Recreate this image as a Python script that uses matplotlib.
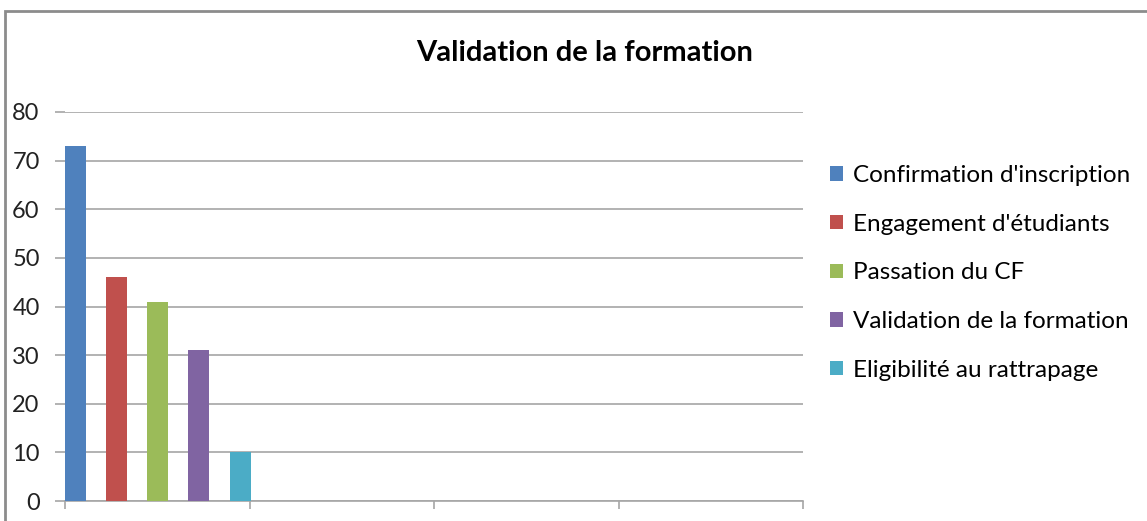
import matplotlib.pyplot as plt
from matplotlib.patches import Rectangle, Patch

series = ["Confirmation d'inscription", "Engagement d'étudiants", "Passation du CF",
          "Validation de la formation", "Eligibilité au rattrapage"]
values = [73, 46, 41, 31, 10]
colors = ['#4F81BD', '#C0504D', '#9BBB59', '#8064A2', '#4BACC6']
n_categories = 4
yticks = [0, 10, 20, 30, 40, 50, 60, 70, 80]

plt.rcParams['font.family'] = ['Lato', 'DejaVu Sans']

fig = plt.figure(figsize=(11.47, 5.21), dpi=100)
ax = fig.add_axes([65 / 1147, 1 - 501 / 521, (803 - 65) / 1147, (501 - 112) / 521])

# all series sit in the first category slot
slot = 0.223
width = 0.1135
for i, (name, val, col) in enumerate(zip(series, values, colors)):
    ax.bar(i * slot, val, width=width, align='edge', color=col, label=name, zorder=3)

grid_col = '#A6A6A6'
ax.set_xlim(0, n_categories)
ax.set_ylim(0, 80)
ax.set_yticks(yticks)
ax.set_xticks(range(n_categories + 1))
ax.set_xticklabels([])
ax.yaxis.grid(True, color=grid_col, linewidth=1.2, zorder=0)
for s in ['top', 'right', 'left']:
    ax.spines[s].set_visible(False)
ax.spines['bottom'].set_color(grid_col)
ax.spines['bottom'].set_linewidth(1.2)
ax.tick_params(axis='y', length=7.2, width=1.2, color=grid_col, pad=11, labelsize=17,
               labelcolor='#222222')
ax.tick_params(axis='x', length=6, width=1.2, color=grid_col)

fig.text(585 / 1147, 1 - 53 / 521, 'Validation de la formation', ha='center', va='center',
         fontsize=21, fontweight='bold')

handles = [Patch(facecolor=c, edgecolor='none') for c in colors]
fig.legend(handles, series, loc='upper left', bbox_to_anchor=(830 / 1147, 1 - 165 / 521),
           frameon=False, fontsize=17.5, handlelength=0.53, handleheight=0.53,
           handletextpad=0.42, labelspacing=1.14, borderaxespad=0, borderpad=0)

# chart frame, clipped by the image edges on the right and bottom
fig.patches.append(Rectangle((5 / 1147, -0.1), 1.2, (1 - 11 / 521) + 0.1,
                             transform=fig.transFigure, fill=False,
                             edgecolor='#8C8C8C', linewidth=2))

fig.savefig('out.png', dpi=100)
